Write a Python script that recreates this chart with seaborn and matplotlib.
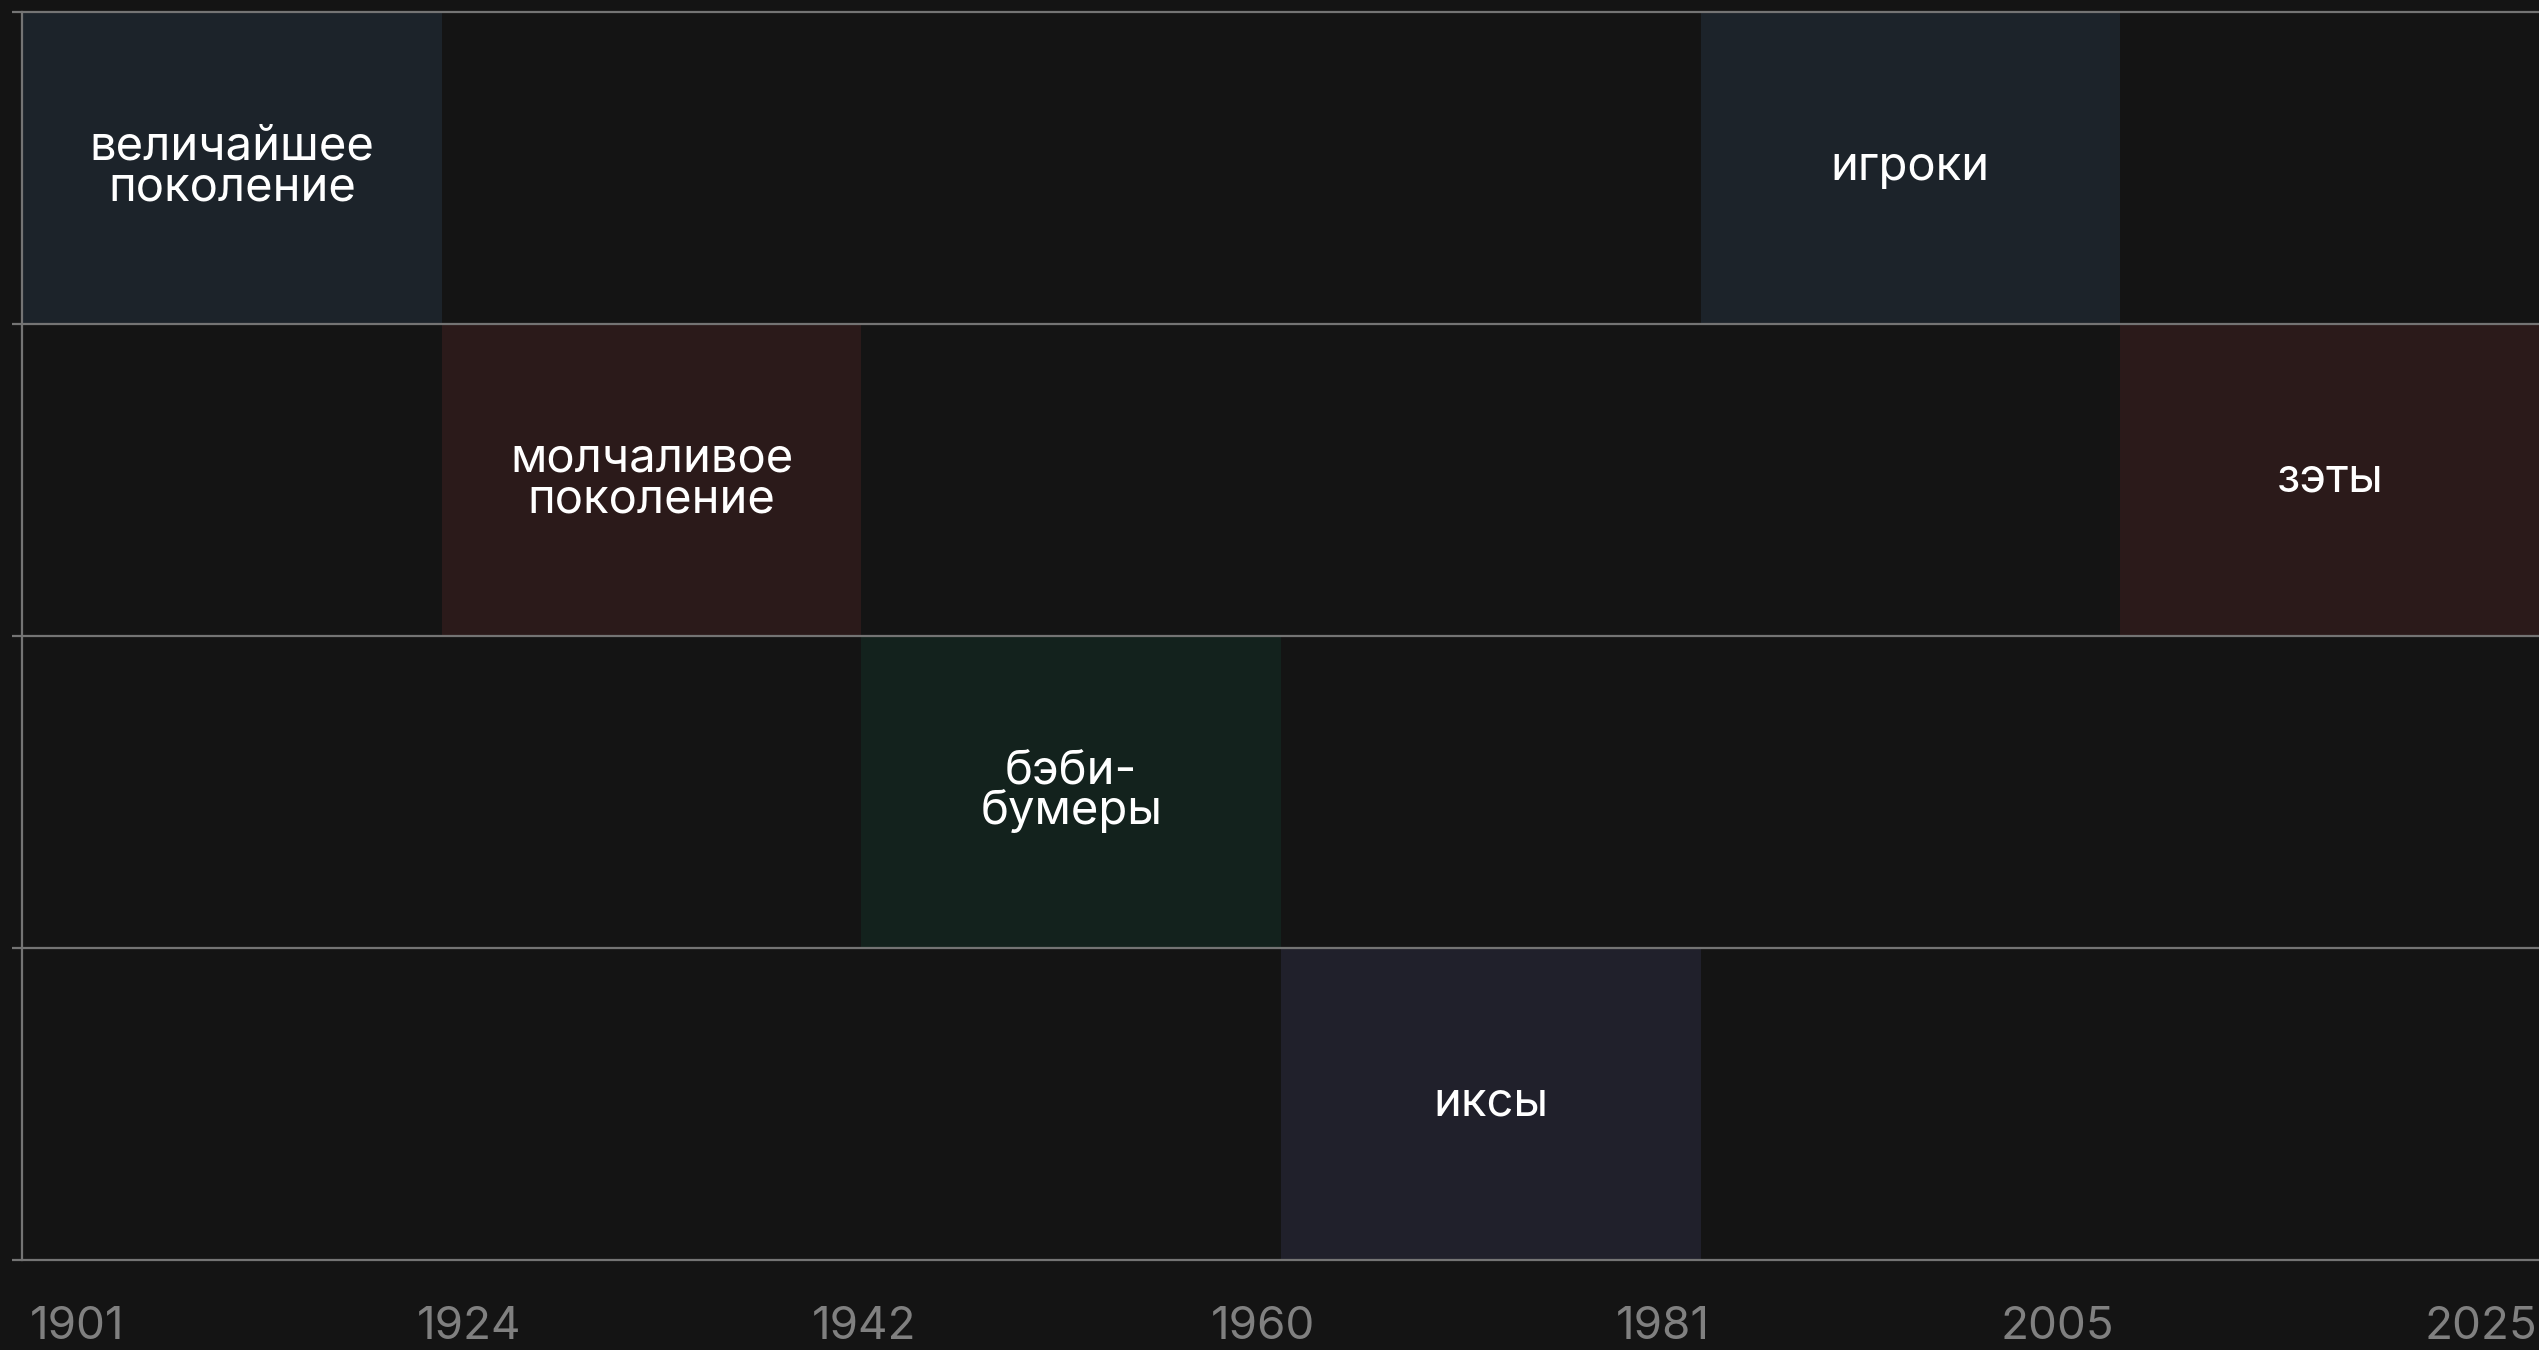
import numpy as np
import pandas as pd
import matplotlib
matplotlib.use("Agg")
import matplotlib.pyplot as plt
from matplotlib.colors import ListedColormap
import seaborn as sns

# ─────────────────────────────────────────────
# DATA
# ─────────────────────────────────────────────
pokolenia = ["величайшее\nпоколение", "молчаливое\nпоколение", "бэби-\nбумеры",
             "иксы", "игроки", "зэты"]
baris = [0, 1, 2, 3, 0, 1]          # строка, в которой стоит поколение
kolom = [0, 1, 2, 3, 4, 5]          # отрезок между годами
warna_idx = [1, 2, 3, 4, 1, 2]      # номер цвета
tahun = ["1901", "1924", "1942", "1960", "1981", "2005", "2025"]

N_BARIS = 4
N_KOLOM = 6

BG = "#141414"
WARNA = [BG, "#1c232a", "#2b1a1a", "#13221d", "#20202b"]
GARIS = "#747474"
TEKS_TICK = "#808080"

# матрица цветов и подписей
mat = np.zeros((N_BARIS, N_KOLOM))
label = np.full((N_BARIS, N_KOLOM), "", dtype=object)
for p, r, c, w in zip(pokolenia, baris, kolom, warna_idx):
    mat[r, c] = w
    label[r, c] = p

df = pd.DataFrame(mat)

# ─────────────────────────────────────────────
# VISUALISASI
# ─────────────────────────────────────────────
sns.set_theme(style="dark")
plt.rcParams["font.family"] = ["Inter", "DejaVu Sans"]

fig = plt.figure(figsize=(25.39, 13.5), dpi=100, facecolor=BG)
ax = fig.add_axes([0.0088, 0.0667, 0.9915, 0.9244])
ax.set_facecolor(BG)

sns.heatmap(
    df, ax=ax, cmap=ListedColormap(WARNA), vmin=-0.5, vmax=len(WARNA) - 0.5,
    cbar=False, annot=label, fmt="",
    annot_kws={"color": "white", "fontsize": 34, "linespacing": 0.9},
    xticklabels=False, yticklabels=False,
)

# горизонтальные линии по границам строк
for y in range(N_BARIS + 1):
    ax.axhline(y, color=GARIS, lw=1.6, zorder=3, clip_on=False)

ax.spines["left"].set_visible(True)
ax.spines["left"].set_color(GARIS)
ax.spines["left"].set_linewidth(1.6)

ax.set_yticks(range(N_BARIS + 1))
ax.set_yticklabels([])
ax.tick_params(axis="y", left=True, length=7, width=1.6, color=GARIS)

# подписи годов (как в оригинале — разложены почти равномерно)
pos_tahun = [0.131, 1.064, 2.005, 2.958, 3.91, 4.85, 5.86]
ax.set_xticks(pos_tahun)
ax.set_xticklabels(tahun, color=TEKS_TICK, fontsize=33)
ax.tick_params(axis="x", bottom=True, length=0, pad=33)

ax.set_xlabel("")
ax.set_ylabel("")

fig.savefig("out.png", dpi=100, facecolor=BG)
